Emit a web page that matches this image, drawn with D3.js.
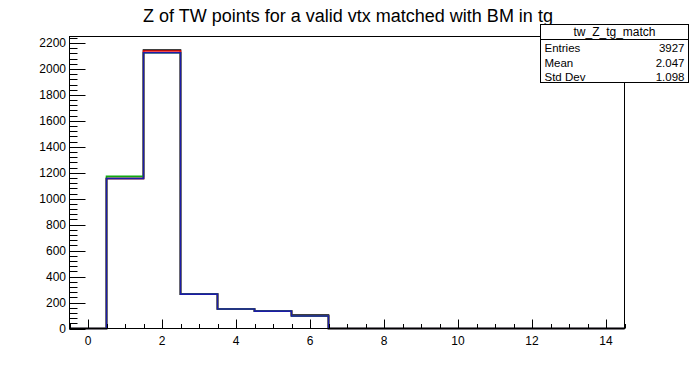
<!DOCTYPE html>
<html>
<head>
<meta charset="utf-8">
<script src="https://cdn.jsdelivr.net/npm/d3@7"></script>
<style>
  body { margin: 0; background: #fff; }
  svg { display: block; font-family: "Liberation Sans", Arial, sans-serif; }
</style>
</head>
<body>
<div id="chart"></div>
<script>
// histogram bins: 15 bins of width 1 from -0.5 to 14.5
const binCenters = d3.range(0, 15);
const histBlack = [0, 1156, 2145, 265, 150, 135, 104, 0, 0, 0, 0, 0, 0, 0, 0];
const histRed   = [0, 1156, 2138, 265, 150, 135, 98, 0, 0, 0, 0, 0, 0, 0, 0];
const histGreen = [0, 1172, 2125, 265, 150, 134, 96, 0, 0, 0, 0, 0, 0, 0, 0];
const histBlue  = [0, 1156, 2125, 265, 150, 134, 96, 0, 0, 0, 0, 0, 0, 0, 0];
const xTicks = [0, 2, 4, 6, 8, 10, 12, 14];
const yTicks = d3.range(0, 2201, 200);
const statsRows = [["Entries", "3927"], ["Mean", "2.047"], ["Std Dev", "1.098"]];

const W = 694, H = 366;
const frame = { left: 69.5, right: 624.5, top: 36.5, bottom: 328.5 };

const svg = d3.select('#chart').append('svg')
    .attr('width', W).attr('height', H);

const x = d3.scaleLinear().domain([-0.5, 14.5]).range([frame.left, frame.right]);
const y = d3.scaleLinear().domain([0, 2250]).range([frame.bottom, frame.top]);

// title
svg.append('text')
    .attr('x', 348).attr('y', 22)
    .attr('text-anchor', 'middle')
    .attr('font-size', '18px')
    .text('Z of TW points for a valid vtx matched with BM in tg');

// histograms as step outlines, last one on top
const series = [
    { vals: histBlack, color: '#000000' },
    { vals: histRed, color: '#ee1010' },
    { vals: histGreen, color: '#10a810' },
    { vals: histBlue, color: '#1c1ca8' }
];

function stepPath(vals) {
    const pts = [[-0.5, 0]];
    vals.forEach((v, i) => {
        pts.push([binCenters[i] - 0.5, v]);
        pts.push([binCenters[i] + 0.5, v]);
    });
    pts.push([14.5, 0]);
    return d3.line().x(d => x(d[0])).y(d => y(d[1]))(pts);
}

series.forEach(s => {
    svg.append('path')
        .attr('d', stepPath(s.vals))
        .attr('fill', 'none')
        .attr('stroke', s.color)
        .attr('stroke-width', 1.6);
});

// frame
svg.append('rect')
    .attr('x', frame.left).attr('y', frame.top)
    .attr('width', frame.right - frame.left)
    .attr('height', frame.bottom - frame.top)
    .attr('fill', 'none').attr('stroke', '#000').attr('stroke-width', 1);

// x axis: major every 2, minor every 0.5
const xAxis = svg.append('g');
d3.range(-0.5, 14.51, 0.5).forEach(v => {
    const major = xTicks.includes(v);
    xAxis.append('line')
        .attr('x1', Math.round(x(v)) + 0.5).attr('x2', Math.round(x(v)) + 0.5)
        .attr('y1', frame.bottom).attr('y2', frame.bottom - (major ? 9 : 4.5))
        .attr('stroke', '#000');
});
xTicks.forEach(v => {
    xAxis.append('text')
        .attr('x', x(v)).attr('y', 345)
        .attr('text-anchor', 'middle')
        .attr('font-size', '12px')
        .text(v);
});

// y axis: major every 200, minor every 40
const yAxis = svg.append('g');
d3.range(0, 2250, 40).forEach(v => {
    const major = v % 200 === 0;
    yAxis.append('line')
        .attr('x1', frame.left).attr('x2', frame.left + (major ? 16 : 8))
        .attr('y1', Math.round(y(v)) + 0.5).attr('y2', Math.round(y(v)) + 0.5)
        .attr('stroke', '#000');
});
yTicks.forEach(v => {
    yAxis.append('text')
        .attr('x', 66).attr('y', y(v) + 4)
        .attr('text-anchor', 'end')
        .attr('font-size', '12px')
        .text(v);
});

// stats box
const box = { x: 540.5, y: 24.5, w: 148, h: 58 };
const st = svg.append('g');
st.append('rect')
    .attr('x', box.x).attr('y', box.y).attr('width', box.w).attr('height', box.h)
    .attr('fill', '#fff').attr('stroke', '#000');
st.append('line')
    .attr('x1', box.x).attr('x2', box.x + box.w)
    .attr('y1', 39.5).attr('y2', 39.5)
    .attr('stroke', '#000');
st.append('text')
    .attr('x', box.x + box.w / 2).attr('y', 36)
    .attr('text-anchor', 'middle').attr('font-size', '12px')
    .text('tw_Z_tg_match');
statsRows.forEach((r, i) => {
    const ty = 52 + i * 14.5;
    st.append('text').attr('x', box.x + 4).attr('y', ty)
        .attr('font-size', '11.5px').text(r[0]);
    st.append('text').attr('x', box.x + box.w - 4).attr('y', ty)
        .attr('text-anchor', 'end').attr('font-size', '11.5px').text(r[1]);
});
</script>
</body>
</html>
